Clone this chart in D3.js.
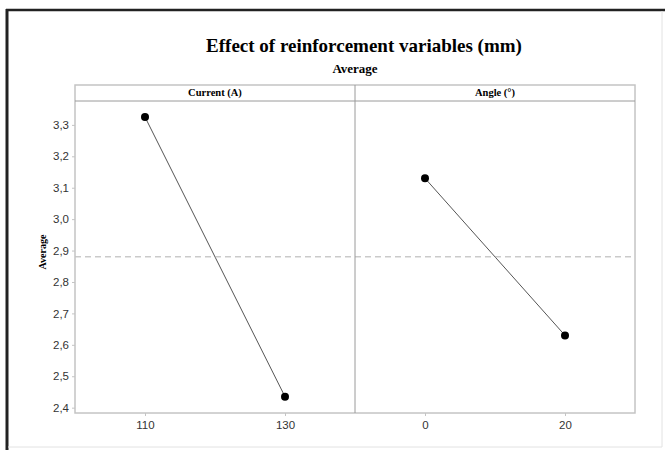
<!DOCTYPE html>
<html>
<head>
<meta charset="utf-8">
<script src="https://cdn.jsdelivr.net/npm/d3@7"></script>
<style>
  body { margin: 0; background: #fff; }
  svg { display: block; }
</style>
</head>
<body>
<script>
// data
var factors = ["Current (A)", "Angle (°)"];
var currentLevels = ["110", "130"];
var currentMeans = [3.325, 2.435];
var angleLevels = ["0", "20"];
var angleMeans = [3.13, 2.63];
var overallMean = 2.88;
var yTicks = [2.4, 2.5, 2.6, 2.7, 2.8, 2.9, 3.0, 3.1, 3.2, 3.3];

var W = 665, H = 450,
    box = {left: 75, right: 635, stripTop: 85, top: 101, bottom: 413},
    serif = "'Liberation Serif', 'Times New Roman', serif",
    sans = "'Liberation Sans', Arial, sans-serif",
    col = {frame: "#222", grid: "#c4c4c4", divider: "#9a9a9a", line: "#555", point: "#000", ref: "#b0b0b0", tick: "#333"};

var svg = d3.select("body").append("svg")
    .attr("width", W)
    .attr("height", H);

// picture frame
svg.append("rect").attr("x", 0).attr("y", 0).attr("width", W).attr("height", H).attr("fill", "#fff");
svg.append("line").attr("x1", 6).attr("x2", W).attr("y1", 10).attr("y2", 10)
    .attr("stroke", col.frame).attr("stroke-width", 2.5);
svg.append("line").attr("x1", 7).attr("x2", 7).attr("y1", 9).attr("y2", H)
    .attr("stroke", col.frame).attr("stroke-width", 3);
svg.append("line").attr("x1", 662).attr("x2", 662).attr("y1", 11).attr("y2", 447)
    .attr("stroke", "#e2e2e2").attr("stroke-width", 1);
svg.append("line").attr("x1", 8).attr("x2", 662).attr("y1", 447).attr("y2", 447)
    .attr("stroke", "#e2e2e2").attr("stroke-width", 1);

// titles
svg.append("text")
    .attr("x", 364).attr("y", 52)
    .attr("text-anchor", "middle")
    .attr("font-family", serif).attr("font-weight", "bold").attr("font-size", "19px")
    .text("Effect of reinforcement variables (mm)");
svg.append("text")
    .attr("x", 355).attr("y", 73)
    .attr("text-anchor", "middle")
    .attr("font-family", serif).attr("font-weight", "bold").attr("font-size", "13px")
    .text("Average");

// y scale shared by both panels
var y = d3.scaleLinear()
    .domain([2.383, 3.376])
    .range([box.bottom, box.top]);

var fmt = function(d) { return d3.format(".1f")(d).replace(".", ","); };

var yAxis = svg.append("g")
    .attr("transform", "translate(" + box.left + ",0)")
    .call(d3.axisLeft(y).tickValues(yTicks).tickFormat(fmt).tickSize(3).tickPadding(3));
yAxis.select(".domain").remove();
yAxis.selectAll("line").attr("stroke", col.grid);
yAxis.selectAll("text")
    .attr("font-family", sans).attr("font-size", "11.5px").attr("fill", col.tick);

svg.append("text")
    .attr("transform", "translate(46," + 252 + ") rotate(-90)")
    .attr("text-anchor", "middle")
    .attr("font-family", serif).attr("font-weight", "bold").attr("font-size", "10px")
    .text("Average");

// panels
var panelW = (box.right - box.left) / 2;
var panels = [
    {name: factors[0], levels: currentLevels, means: currentMeans},
    {name: factors[1], levels: angleLevels, means: angleMeans}
];

panels.forEach(function(p, i) {
    var x0 = box.left + i * panelW;
    var x = d3.scalePoint()
        .domain(p.levels)
        .range([x0, x0 + panelW])
        .padding(0.5);

    var g = svg.append("g");

    // strip
    g.append("text")
        .attr("x", x0 + panelW / 2).attr("y", 96)
        .attr("text-anchor", "middle")
        .attr("font-family", serif).attr("font-weight", "bold").attr("font-size", "10.5px")
        .text(p.name);

    // x axis
    var xAxis = g.append("g")
        .attr("transform", "translate(0," + box.bottom + ")")
        .call(d3.axisBottom(x).tickSize(3).tickPadding(5));
    xAxis.select(".domain").remove();
    xAxis.selectAll("line").attr("stroke", col.grid);
    xAxis.selectAll("text")
        .attr("font-family", sans).attr("font-size", "11.5px").attr("fill", col.tick);

    // main effect line
    var pts = p.levels.map(function(l, k) { return {level: l, mean: p.means[k]}; });
    g.append("path")
        .datum(pts)
        .attr("fill", "none")
        .attr("stroke", col.line)
        .attr("stroke-width", 1)
        .attr("d", d3.line()
            .x(function(d) { return x(d.level); })
            .y(function(d) { return y(d.mean); }));
    g.selectAll(".pt")
        .data(pts)
        .enter()
        .append("circle")
            .attr("class", "pt")
            .attr("cx", function(d) { return x(d.level); })
            .attr("cy", function(d) { return y(d.mean); })
            .attr("r", 4)
            .attr("fill", col.point);
});

// overall mean reference line
svg.append("line")
    .attr("x1", box.left).attr("x2", box.right)
    .attr("y1", y(overallMean)).attr("y2", y(overallMean))
    .attr("stroke", col.ref).attr("stroke-width", 1)
    .attr("stroke-dasharray", "6,4");

// panel frame, strip line and divider
svg.append("rect")
    .attr("x", box.left).attr("y", box.stripTop)
    .attr("width", box.right - box.left).attr("height", box.bottom - box.stripTop)
    .attr("fill", "none").attr("stroke", col.grid).attr("stroke-width", 1.5);
svg.append("line")
    .attr("x1", box.left).attr("x2", box.right)
    .attr("y1", box.top).attr("y2", box.top)
    .attr("stroke", col.divider).attr("stroke-width", 1);
svg.append("line")
    .attr("x1", box.left + panelW).attr("x2", box.left + panelW)
    .attr("y1", box.stripTop).attr("y2", box.bottom)
    .attr("stroke", col.divider).attr("stroke-width", 1);
</script>
</body>
</html>
